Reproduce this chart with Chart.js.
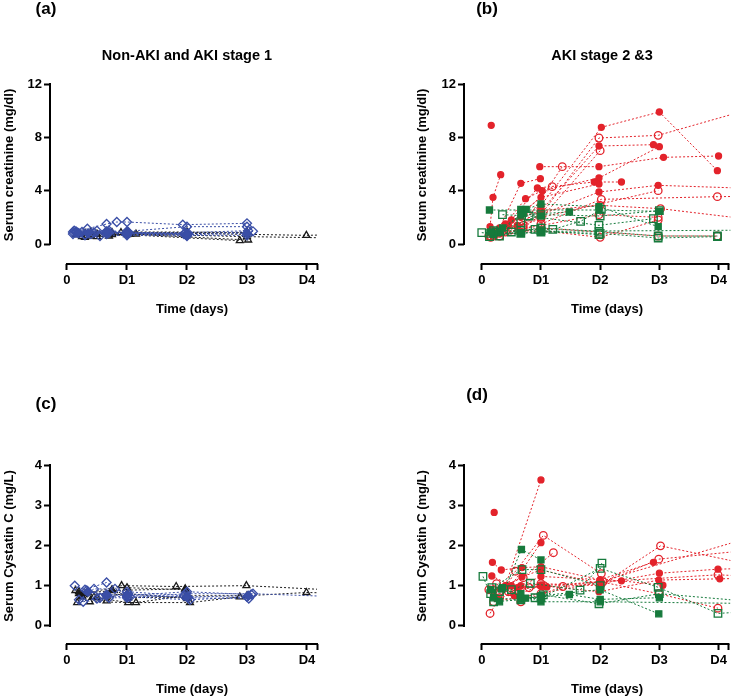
<!DOCTYPE html>
<html>
<head>
<meta charset="utf-8">
<script src="https://cdn.jsdelivr.net/npm/chart.js@4.4.1/dist/chart.umd.min.js"></script>
<style>
    html, body { margin: 0; padding: 0; background: #fff; }
    #pagina { position: relative; width: 734px; height: 696px; overflow: hidden;
              font-family: "Liberation Sans", Arial, sans-serif; font-weight: bold; color: #000; }
    canvas { position: absolute; }
    .texto { position: absolute; white-space: nowrap; line-height: 1; transform: translate(-50%, -50%); }
    .vertical { transform: translate(-50%, -50%) rotate(-90deg); }
</style>
</head>
<body>
<div id="pagina">
    <canvas id="grafico_a" width="367" height="330" style="left:0;top:0"></canvas>
    <canvas id="grafico_b" width="370" height="330" style="left:367px;top:0"></canvas>
    <canvas id="grafico_c" width="367" height="366" style="left:0;top:330px"></canvas>
    <canvas id="grafico_d" width="370" height="366" style="left:367px;top:330px"></canvas>

    <div class="texto" style="left:46px;top:8px;font-size:17px">(a)</div>
    <div class="texto" style="left:487px;top:8px;font-size:17px">(b)</div>
    <div class="texto" style="left:46px;top:403px;font-size:17px">(c)</div>
    <div class="texto" style="left:477px;top:394px;font-size:17px">(d)</div>

    <div class="texto" style="left:187px;top:55px;font-size:14.5px">Non-AKI and AKI stage 1</div>
    <div class="texto" style="left:602px;top:55px;font-size:14.5px">AKI stage 2 &amp;3</div>

    <div class="texto vertical" style="left:8px;top:165px;font-size:13px">Serum creatinine (mg/dl)</div>
    <div class="texto vertical" style="left:421px;top:165px;font-size:13px">Serum creatinine (mg/dl)</div>
    <div class="texto vertical" style="left:8px;top:546px;font-size:13px">Serum Cystatin C (mg/L)</div>
    <div class="texto vertical" style="left:421px;top:546px;font-size:13px">Serum Cystatin C (mg/L)</div>

    <div class="texto" style="left:192px;top:308px;font-size:13px">Time (days)</div>
    <div class="texto" style="left:607px;top:308px;font-size:13px">Time (days)</div>
    <div class="texto" style="left:192px;top:688px;font-size:13px">Time (days)</div>
    <div class="texto" style="left:607px;top:688px;font-size:13px">Time (days)</div>
</div>

<script>
// eixos
let diasTicks = [0, 1, 2, 3, 4];
let diasRotulos = ["0", "D1", "D2", "D3", "D4"];
let creatininaTicks = [0, 4, 8, 12];
let cistatinaTicks = [0, 1, 2, 3, 4];

// (a) creatinina - sem LRA (triângulos) e LRA estágio 1 (losangos); cada série = um paciente [dia, valor]
let creatPretoVazio = [
    [[0.3, 0.5], [0.5, 0.55], [1.0, 0.7], [2.88, 0.25]],
    [[0.2, 0.7], [0.4, 0.6], [1.05, 0.75], [3.02, 0.3]],
    [[0.4, 0.9], [0.75, 0.85], [2.0, 0.8], [3.99, 0.65], [4.5, 0.7]],
    [[0.25, 0.55], [0.7, 0.6], [1.15, 0.75], [3.0, 0.55], [4.5, 0.45]],
    [[0.15, 0.7], [0.5, 0.75], [0.9, 0.85], [2.0, 0.85], [3.0, 0.85]]
];
let creatPretoCheio = [
    [[0.3, 0.8], [0.75, 0.7], [1.0, 0.9], [2.0, 0.9], [3.0, 0.85]]
];
let creatAzulVazio = [
    [[0.1, 0.9], [0.34, 1.15], [0.66, 1.5], [0.83, 1.65], [1.0, 1.65], [1.93, 1.45], [3.0, 1.55]],
    [[0.12, 1.0], [0.5, 1.0], [1.0, 0.95], [2.0, 1.3], [3.0, 1.3]],
    [[0.15, 0.85], [0.4, 0.75], [1.02, 0.8], [2.0, 0.7], [3.1, 0.95]],
    [[0.2, 0.8], [0.66, 0.95], [1.0, 0.85], [1.98, 0.85], [3.02, 1.0]],
    [[0.1, 0.75], [0.3, 0.65], [0.55, 0.6], [1.0, 0.65], [2.0, 0.6]],
    [[0.25, 0.9], [0.7, 1.0], [1.0, 0.8], [2.02, 0.8]],
    [[0.15, 0.95], [0.45, 0.85], [0.68, 0.8], [1.02, 0.9], [1.95, 0.75]],
    [[0.3, 0.7], [0.66, 0.75], [1.0, 0.75], [2.0, 0.65], [3.0, 0.65]]
];
let creatAzulCheio = [
    [[0.18, 0.85], [0.66, 0.9], [1.0, 0.85], [2.0, 0.75]],
    [[0.35, 0.8], [0.7, 0.85], [1.02, 0.8], [1.98, 0.7], [3.0, 0.8]]
];

// (b) creatinina - LRA estágio 2 e 3
let creatVermelhoCheio = [
    [[0.16, 8.9]],
    [[0.14, 1.3], [0.19, 3.5], [0.32, 5.2]],
    [[0.15, 0.8], [0.45, 1.4], [1.0, 2.9], [2.02, 8.75], [3.0, 9.9], [3.98, 5.5]],
    [[0.2, 1.0], [0.66, 2.0], [1.0, 2.5], [1.98, 7.35], [2.9, 7.45]],
    [[0.98, 5.8], [1.98, 5.8], [3.07, 6.5], [4.0, 6.6]],
    [[0.3, 1.2], [0.66, 4.55], [0.99, 4.9]],
    [[0.5, 1.8], [0.94, 4.2], [1.9, 4.65], [2.36, 4.65]],
    [[0.4, 1.5], [0.74, 3.4], [1.02, 4.0], [1.98, 4.95], [3.0, 7.3]],
    [[0.6, 1.3], [1.0, 2.2], [1.98, 3.9], [2.98, 4.4], [5.0, 4.1]],
    [[0.3, 0.9], [1.0, 3.5], [1.98, 4.5]],
    [[0.2, 0.7], [0.33, 1.0], [0.6, 1.4]]
];
let creatVermelhoVazio = [
    [[0.2, 0.6], [0.7, 1.2], [1.0, 2.2], [1.98, 7.95], [2.98, 8.15], [5.0, 10.7]],
    [[0.3, 0.8], [1.0, 1.9], [2.0, 7.0]],
    [[0.35, 1.0], [1.19, 4.3]],
    [[0.7, 1.4], [1.36, 5.8]],
    [[0.15, 0.5], [1.0, 1.5], [2.02, 3.35], [3.98, 3.55], [5.0, 3.6]],
    [[0.3, 0.9], [1.0, 2.0], [2.98, 4.0]],
    [[0.12, 0.6], [0.4, 0.9], [1.0, 2.5], [2.0, 2.9], [3.02, 2.65], [5.0, 1.6]],
    [[0.15, 0.6], [1.0, 1.0], [2.0, 0.5], [2.98, 1.8]],
    [[0.3, 0.6], [1.0, 1.2], [2.98, 0.6], [3.98, 0.6]],
    [[0.66, 1.1], [1.98, 2.2], [2.98, 2.0]]
];
let creatVerdeCheio = [
    [[0.13, 2.55], [1.98, 2.55], [3.0, 2.45]],
    [[0.66, 2.6], [0.75, 2.6], [1.0, 3.0], [1.98, 2.8], [2.98, 1.3]],
    [[0.15, 0.9], [0.35, 1.2], [0.66, 2.2], [1.48, 2.4]],
    [[0.2, 0.7], [0.66, 0.8], [1.0, 0.95], [5.0, 1.05]],
    [[0.3, 0.9], [0.7, 2.3], [1.0, 2.1]]
];
let creatVerdeVazio = [
    [[0.0, 0.85], [0.15, 0.8], [0.66, 0.8], [1.0, 0.9], [2.0, 0.8], [2.98, 0.45], [3.98, 0.55]],
    [[0.35, 2.2], [0.8, 2.1], [1.98, 1.4], [2.9, 1.9]],
    [[0.3, 0.6], [0.66, 1.0], [0.9, 1.1], [1.2, 1.1], [1.67, 1.7], [2.02, 2.6]],
    [[0.13, 0.55], [0.5, 0.9], [1.0, 1.2], [1.98, 0.95], [2.98, 0.6], [3.98, 0.6]],
    [[0.25, 0.9], [0.66, 1.6], [1.0, 2.2], [2.0, 2.1], [3.0, 2.5]],
    [[0.2, 1.0], [1.0, 1.0], [1.98, 0.7]]
];

// (c) cistatina C - sem LRA e LRA estágio 1
let cistPretoVazio = [
    [[0.3, 0.8], [0.91, 1.0], [1.82, 0.98], [2.99, 1.0], [5.0, 0.85]],
    [[0.17, 0.58], [0.5, 0.7], [1.02, 0.58], [2.05, 0.58], [2.88, 0.72]],
    [[0.2, 0.85], [0.38, 0.6], [1.15, 0.58], [1.98, 0.75], [3.0, 0.75], [3.99, 0.83], [5.0, 0.8]],
    [[0.25, 0.75], [0.66, 0.62], [1.0, 0.95], [1.97, 0.9]],
    [[0.14, 0.88], [0.45, 0.72], [0.75, 0.9], [1.02, 0.7], [2.0, 0.72]]
];
let cistPretoCheio = [
    [[0.2, 0.8], [0.35, 0.82], [0.75, 0.88], [1.97, 0.92]],
    [[0.25, 0.72], [0.66, 0.75], [1.0, 0.8], [2.0, 0.68]]
];
let cistAzulVazio = [
    [[0.13, 1.0], [0.3, 0.9], [0.66, 1.08], [1.0, 0.75], [2.0, 0.85], [3.07, 0.78]],
    [[0.2, 0.65], [0.45, 0.92], [0.8, 0.92], [1.02, 0.8], [2.02, 0.7], [3.03, 0.68]],
    [[0.27, 0.6], [0.55, 0.7], [1.0, 0.7], [1.98, 0.8], [3.1, 0.8], [5.0, 0.7]],
    [[0.33, 0.88], [0.66, 0.75], [1.05, 0.72], [2.05, 0.65], [3.0, 0.72]],
    [[0.5, 0.68], [0.7, 0.7], [1.0, 0.85], [1.95, 0.75]]
];
let cistAzulCheio = [
    [[0.35, 0.85], [0.66, 0.78], [1.0, 0.75], [2.0, 0.72], [3.02, 0.75]]
];

// (d) cistatina C - LRA estágio 2 e 3
let cistVermelhoCheio = [
    [[0.21, 2.82]],
    [[0.4, 1.0], [1.0, 3.63]],
    [[0.18, 1.58], [0.33, 1.39], [0.68, 1.45], [1.0, 1.47], [2.0, 1.15], [2.9, 1.58]],
    [[0.17, 1.24], [0.5, 1.0], [1.0, 2.07]],
    [[0.24, 0.7], [0.42, 1.0], [0.68, 1.22], [1.0, 1.39], [2.0, 1.05], [3.0, 1.31], [3.99, 1.41], [5.0, 1.45]],
    [[0.3, 0.65], [0.66, 1.0], [1.0, 1.23], [2.36, 1.12], [3.06, 1.01]],
    [[0.55, 0.75], [1.0, 1.0], [1.98, 0.85], [2.99, 1.14], [4.02, 1.17], [5.0, 1.2]],
    [[0.15, 0.9], [0.6, 0.95], [1.1, 0.97], [2.0, 1.1], [5.0, 2.4]]
];
let cistVermelhoVazio = [
    [[0.14, 0.31], [0.3, 0.7], [0.57, 1.36], [1.04, 2.25], [2.02, 1.3]],
    [[0.2, 0.9], [0.7, 1.2], [1.21, 1.82]],
    [[0.3, 0.85], [1.0, 1.05], [2.0, 1.0], [3.02, 1.99], [5.0, 1.38]],
    [[0.25, 1.05], [0.66, 0.6], [1.37, 0.98], [2.02, 1.05], [2.99, 1.66], [5.0, 1.95]],
    [[0.5, 0.85], [1.0, 1.0], [2.05, 1.1], [3.99, 1.27], [5.0, 1.2]],
    [[0.2, 0.6], [1.0, 0.8], [2.0, 1.1], [2.99, 0.8], [3.99, 0.44]],
    [[0.12, 0.9], [0.45, 0.85], [0.8, 0.95], [1.05, 1.0]]
];
let cistVerdeCheio = [
    [[0.3, 0.6], [0.67, 1.9], [1.0, 1.64]],
    [[0.35, 0.95], [0.74, 0.69], [1.48, 0.78], [2.0, 0.66], [3.0, 0.7]],
    [[0.2, 0.7], [0.66, 0.65], [1.0, 0.75], [2.0, 0.9], [2.99, 0.3]],
    [[0.15, 0.9], [0.33, 0.92], [0.66, 0.8], [1.0, 0.6], [2.0, 0.6], [5.0, 0.55]]
];
let cistVerdeVazio = [
    [[0.02, 1.23], [0.2, 0.6], [0.66, 0.65], [1.0, 0.7], [2.0, 1.43], [2.98, 0.96], [3.99, 0.31], [5.0, 0.4]],
    [[0.15, 0.8], [0.5, 0.9], [0.82, 1.06], [1.66, 0.89], [2.03, 1.56]],
    [[0.3, 0.85], [0.9, 0.7], [1.04, 0.77], [1.98, 0.55], [3.0, 0.8], [5.0, 0.55]],
    [[0.17, 0.95], [0.68, 1.4], [1.0, 1.4], [2.0, 1.0]]
];

// estilos dos símbolos
let VERMELHO = "#e3232b";
let VERDE = "#167a3c";
let AZUL = "#3a4ea6";
let PRETO = "#1a1a1a";

function estilo(cor, simbolo, raio, cheio) {
    return { cor: cor, simbolo: simbolo, raio: raio, cheio: cheio };
}

let fonteTick = { family: "'Liberation Sans', Arial, sans-serif", size: 13, weight: "bold" };

// eixos no estilo Prism: linha só de 0 até o fim da escala
let eixosSeparados = {
    id: "eixosSeparados",
    afterDraw: function (chart, args, opcoes) {
        let ctx = chart.ctx;
        let area = chart.chartArea;
        let x = chart.scales.x;
        let y = chart.scales.y;

        ctx.save();
        ctx.strokeStyle = "#000";
        ctx.lineWidth = 2;
        ctx.lineCap = "square";
        ctx.beginPath();
        ctx.moveTo(area.left, y.getPixelForValue(opcoes.yFim));
        ctx.lineTo(area.left, y.getPixelForValue(0));
        ctx.moveTo(x.getPixelForValue(0), area.bottom);
        ctx.lineTo(x.getPixelForValue(opcoes.xFim), area.bottom);
        ctx.stroke();
        ctx.restore();
    }
};

function montarDatasets(grupos) {
    let datasets = [];

    for (let i = 0; i < grupos.length; i++) {
        let grupo = grupos[i];

        for (let j = 0; j < grupo.series.length; j++) {
            let serie = grupo.series[j];

            datasets.push({
                data: serie.map(function (p) { return { x: p[0], y: p[1] }; }),
                showLine: true,
                borderColor: grupo.estilo.cor,
                borderWidth: 1,
                borderDash: [2, 2],
                pointStyle: grupo.estilo.simbolo,
                pointRadius: grupo.estilo.raio,
                pointBorderWidth: 1.3,
                pointBorderColor: grupo.estilo.cor,
                pointBackgroundColor: grupo.estilo.cheio ? grupo.estilo.cor : "rgba(0,0,0,0)"
            });
        }
    }

    return datasets;
}

function criarGrafico(idCanvas, grupos, cfg) {
    let ctx = document.getElementById(idCanvas);

    return new Chart(ctx, {
        type: "scatter",
        data: { datasets: montarDatasets(grupos) },
        options: {
            responsive: false,
            animation: false,
            layout: { padding: cfg.padding },
            plugins: {
                legend: { display: false },
                tooltip: { enabled: false },
                eixosSeparados: { xFim: cfg.xFim, yFim: cfg.yTicks[cfg.yTicks.length - 1] }
            },
            scales: {
                x: {
                    type: "linear",
                    min: cfg.xMin,
                    max: cfg.xMax,
                    afterBuildTicks: function (escala) {
                        escala.ticks = diasTicks.concat([cfg.xFim]).map(function (v) { return { value: v }; });
                    },
                    afterFit: function (escala) { escala.height = 30; },
                    ticks: {
                        autoSkip: false,
                        maxRotation: 0,
                        padding: 3,
                        color: "#000",
                        font: fonteTick,
                        callback: function (valor, indice) {
                            return diasRotulos[indice] != undefined ? diasRotulos[indice] : "";
                        }
                    },
                    grid: {
                        drawOnChartArea: false,
                        drawTicks: true,
                        tickLength: 6,
                        tickWidth: 2,
                        tickColor: "#000"
                    },
                    border: { display: false }
                },
                y: {
                    type: "linear",
                    min: cfg.yMin,
                    max: cfg.yTicks[cfg.yTicks.length - 1],
                    afterBuildTicks: function (escala) {
                        escala.ticks = cfg.yTicks.map(function (v) { return { value: v }; });
                    },
                    afterFit: function (escala) { escala.width = 50; },
                    ticks: {
                        autoSkip: false,
                        padding: 2,
                        color: "#000",
                        font: fonteTick
                    },
                    grid: {
                        drawOnChartArea: false,
                        drawTicks: true,
                        tickLength: 6,
                        tickWidth: 2,
                        tickColor: "#000"
                    },
                    border: { display: false }
                }
            }
        },
        plugins: [eixosSeparados]
    });
}

let triVazio = estilo(PRETO, "triangle", 4, false);
let triCheio = estilo(PRETO, "triangle", 4, true);
let losVazio = estilo(AZUL, "rectRot", 4.5, false);
let losCheio = estilo(AZUL, "rectRot", 4.5, true);
let circCheio = estilo(VERMELHO, "circle", 3, true);
let circVazio = estilo(VERMELHO, "circle", 3.8, false);
let quadCheio = estilo(VERDE, "rect", 4.3, true);
let quadVazio = estilo(VERDE, "rect", 5.3, false);

// o primeiro grupo da lista fica por cima
criarGrafico("grafico_a", [
    { series: creatAzulCheio, estilo: losCheio },
    { series: creatAzulVazio, estilo: losVazio },
    { series: creatPretoCheio, estilo: triCheio },
    { series: creatPretoVazio, estilo: triVazio }
], { padding: { left: 0, top: 84, right: 50, bottom: 36 }, xMin: -0.283, xMax: 4.167, xFim: 4.167, yMin: -1.5, yTicks: creatininaTicks });

criarGrafico("grafico_b", [
    { series: creatVerdeCheio, estilo: quadCheio },
    { series: creatVerdeVazio, estilo: quadVazio },
    { series: creatVermelhoCheio, estilo: circCheio },
    { series: creatVermelhoVazio, estilo: circVazio }
], { padding: { left: 47, top: 84, right: 3, bottom: 36 }, xMin: -0.3, xMax: 4.2, xFim: 4.167, yMin: -1.5, yTicks: creatininaTicks });

criarGrafico("grafico_c", [
    { series: cistAzulCheio, estilo: losCheio },
    { series: cistAzulVazio, estilo: losVazio },
    { series: cistPretoCheio, estilo: triCheio },
    { series: cistPretoVazio, estilo: triVazio }
], { padding: { left: 0, top: 135, right: 50, bottom: 22 }, xMin: -0.283, xMax: 4.167, xFim: 4.167, yMin: -0.45, yTicks: cistatinaTicks });

criarGrafico("grafico_d", [
    { series: cistVerdeCheio, estilo: quadCheio },
    { series: cistVerdeVazio, estilo: quadVazio },
    { series: cistVermelhoCheio, estilo: circCheio },
    { series: cistVermelhoVazio, estilo: circVazio }
], { padding: { left: 47, top: 135, right: 3, bottom: 22 }, xMin: -0.3, xMax: 4.2, xFim: 4.167, yMin: -0.45, yTicks: cistatinaTicks });
</script>
</body>
</html>
